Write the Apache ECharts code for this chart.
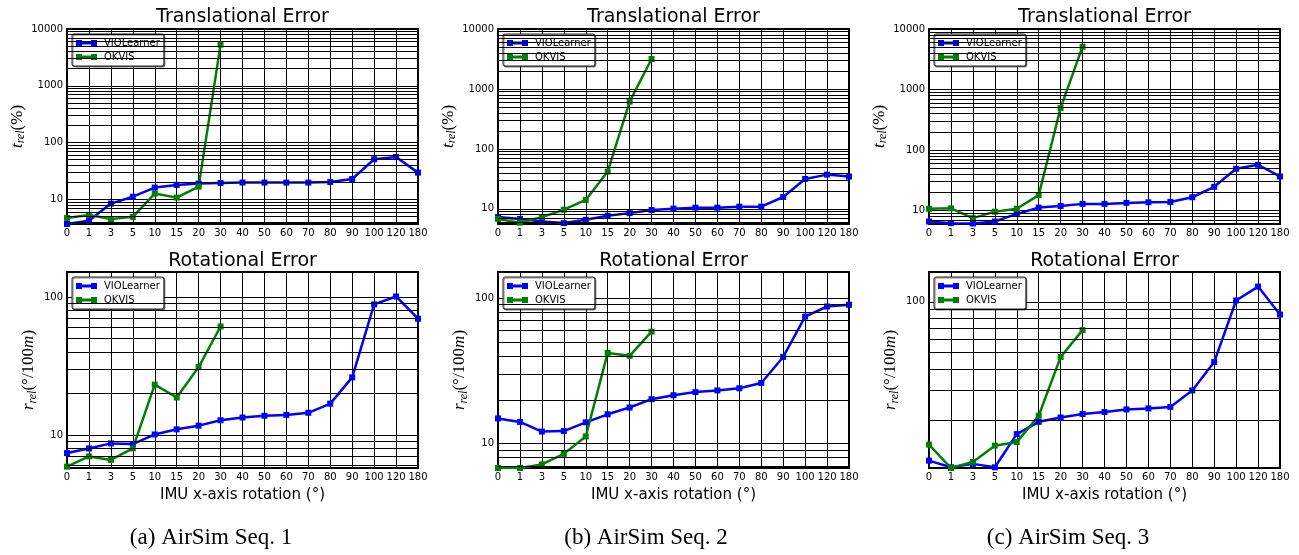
<!DOCTYPE html>
<html>
<head>
<meta charset="utf-8">
<script src="https://cdn.jsdelivr.net/npm/echarts@6/dist/echarts.min.js"></script>
<style>
  html, body { margin: 0; padding: 0; background: #fff; }
  #chart { width: 1299px; height: 555px; }
</style>
</head>
<body>
<div id="chart"></div>
<script>
// ---- data ----
const categories = ['0','1','3','5','10','15','20','30','40','50','60','70','80','90','100','120','180'];

const t1Vio   = [3.67, 4.2, 8.4, 11.1, 16.1, 17.9, 18.9, 19.4, 19.7, 19.7, 19.7, 19.7, 20.2, 22.8, 50.8, 55.8, 29.5];
const t1Okvis = [4.7, 5.3, 4.5, 4.9, 12.6, 10.7, 16.7, 5300];
const t2Vio   = [7.3, 6.8, 6.15, 5.8, 6.6, 7.7, 8.5, 9.6, 10.1, 10.5, 10.5, 10.9, 10.9, 15.8, 31.6, 37.3, 34.6];
const t2Okvis = [6.8, 5.9, 7.3, 9.7, 14.1, 41.9, 615, 3160];
const t3Vio   = [6.6, 6.2, 6.1, 6.6, 8.8, 11.2, 11.9, 12.9, 12.9, 13.4, 13.7, 13.9, 16.6, 24.7, 49, 57, 36.6];
const t3Okvis = [10.7, 10.9, 7.5, 9.6, 10.7, 18, 497, 5100];

const r1Vio   = [7.4, 8.0, 8.7, 8.6, 10.1, 11.0, 11.7, 12.8, 13.4, 13.8, 14.0, 14.5, 16.9, 26.2, 88.5, 101, 69.7];
const r1Okvis = [5.9, 7.0, 6.6, 8.0, 23.2, 18.7, 31.1, 61.2];
const r2Vio   = [14.9, 14.1, 12.1, 12.2, 14.0, 15.9, 17.7, 20.2, 21.5, 22.6, 23.2, 24.0, 26.1, 39.4, 74.6, 87.5, 89.9];
const r2Okvis = [6.8, 6.8, 7.2, 8.5, 11.2, 42, 40.1, 58.8];
const r3Vio   = [11.5, 10.5, 11.0, 10.5, 16.5, 19.5, 20.7, 21.7, 22.3, 23.1, 23.4, 23.9, 29.9, 44, 101.8, 123, 84];
const r3Okvis = [14.3, 10.4, 11.3, 14.1, 14.8, 21.2, 47.1, 68];

const yMins = [3.67, 5.6, 6.0, 5.77, 6.8, 10.4];
const yMaxs = [10000, 10000, 10000, 152, 151, 150];

const seriesNames = ['VIOLearner', 'OKVIS'];
const titles = ['Translational Error', 'Rotational Error'];
const xName = 'IMU x-axis rotation (°)';
const captions = ['(a) AirSim Seq. 1', '(b) AirSim Seq. 2', '(c) AirSim Seq. 3'];

const vioData = [t1Vio, t2Vio, t3Vio, r1Vio, r2Vio, r3Vio];
const okvisData = [t1Okvis, t2Okvis, t3Okvis, r1Okvis, r2Okvis, r3Okvis];

// ---- layout ----
const colLeft = [67, 498, 929];
const rowTop = [29, 272];
const plotW = 351;
const captionX = [211, 646, 1068];
const SANS = 'DejaVu Sans';
const SERIF = 'Liberation Serif';
const legendIcon = 'path://M0,0h6v6H0z M15,0h6v6h-6z M6,1.5h9v3H6z';

function minorValues(min, max) {
  const out = [];
  for (let k = -1; k <= 5; k++) {
    for (let m = 2; m <= 9; m++) {
      const v = m * Math.pow(10, k);
      if (v > min && v < max) out.push(v);
    }
  }
  return out;
}

const option = {
  animation: false,
  backgroundColor: '#fff',
  grid: [], xAxis: [], yAxis: [], series: [], legend: [], graphic: []
};

const richName = {
  i: { fontFamily: SERIF, fontStyle: 'italic', fontSize: 17, color: '#000', lineHeight: 20 },
  s: { fontFamily: SERIF, fontStyle: 'italic', fontSize: 12, color: '#000', lineHeight: 13, verticalAlign: 'bottom' },
  n: { fontFamily: SERIF, fontSize: 17, color: '#000', lineHeight: 20 }
};
const yNames = ['{i|t}{s|rel}{n|(%)}', '{i|r}{s|rel}{n|(°/100}{i|m}{n|)}'];

for (let i = 0; i < 6; i++) {
  const row = Math.floor(i / 3), col = i % 3;
  const left = colLeft[col], top = rowTop[row];
  option.grid.push({
    left: left, top: top, width: plotW, height: row === 0 ? 195 : 196,
    show: true, borderColor: '#000', borderWidth: 2, backgroundColor: 'transparent'
  });
  option.xAxis.push({
    type: 'category', gridIndex: i, data: categories, boundaryGap: false,
    axisLine: { show: false }, axisTick: { show: false },
    axisLabel: { interval: 0, margin: 4, fontFamily: SANS, fontSize: 10, color: '#000' },
    splitLine: { show: true, interval: 0, lineStyle: { color: '#000', width: 1 } },
    name: row === 1 ? xName : '', nameLocation: 'middle', nameGap: 20,
    nameTextStyle: { fontFamily: SANS, fontSize: 15, color: '#000' }
  });
  option.yAxis.push({
    type: 'log', logBase: 10, gridIndex: i, min: yMins[i], max: yMaxs[i],
    axisLine: { show: false }, axisTick: { show: false },
    axisLabel: {
      margin: 4, fontFamily: SANS, fontSize: 10, color: '#000',
      formatter: function (v) {
        const l = Math.log10(v);
        return Math.abs(l - Math.round(l)) < 1e-6 ? String(Math.round(v)) : '';
      }
    },
    splitLine: { show: true, lineStyle: { color: '#000', width: 1 } },
    name: yNames[row], nameLocation: 'middle', nameGap: row === 0 ? 38 : 28,
    nameTextStyle: { rich: richName }
  });
  // minor grid lines
  option.series.push({
    type: 'line', xAxisIndex: i, yAxisIndex: i, data: [], z: 1, silent: true,
    markLine: {
      silent: true, symbol: ['none', 'none'], label: { show: false },
      lineStyle: { color: '#000', width: 1, type: 'solid' },
      emphasis: { disabled: true },
      data: minorValues(yMins[i], yMaxs[i]).map(v => ({ yAxis: v }))
    }
  });
  option.series.push({
    name: seriesNames[0], type: 'line', xAxisIndex: i, yAxisIndex: i, data: vioData[i], z: 3,
    symbol: 'rect', symbolSize: 6, color: '#0000ff', legendIcon: legendIcon,
    lineStyle: { color: '#0000ff', width: 2.5 }, itemStyle: { color: '#0000ff' }
  });
  option.series.push({
    name: seriesNames[1], type: 'line', xAxisIndex: i, yAxisIndex: i, data: okvisData[i], z: 3,
    symbol: 'rect', symbolSize: 6, color: '#008000', legendIcon: legendIcon,
    lineStyle: { color: '#008000', width: 2.5 }, itemStyle: { color: '#008000' }
  });
  option.legend.push({
    data: seriesNames, orient: 'vertical', left: left + 5, top: top + 5,
    icon: legendIcon,
    itemWidth: 21, itemHeight: 6, itemGap: 2, padding: [3, 4, 3, 4],
    backgroundColor: '#fff', borderColor: '#222', borderWidth: 1, borderRadius: 2,
    shadowColor: 'rgba(0,0,0,0.5)', shadowOffsetX: 1, shadowOffsetY: 1, shadowBlur: 0,
    textStyle: { fontFamily: SANS, fontSize: 10, color: '#000', padding: [0, 0, 0, 2], lineHeight: 12 },
    selectedMode: false
  });
  option.graphic.push({
    type: 'text', x: left + plotW / 2, y: row === 0 ? 17 : 261,
    style: { text: titles[row], fontFamily: SANS, fontSize: 19, fill: '#000', align: 'center', verticalAlign: 'middle' }
  });
}
for (let c = 0; c < 3; c++) {
  option.graphic.push({
    type: 'text', x: captionX[c], y: 538,
    style: { text: captions[c], fontFamily: SERIF, fontSize: 23, fill: '#000', align: 'center', verticalAlign: 'middle' }
  });
}

const chart = echarts.init(document.getElementById('chart'), null, { renderer: 'canvas' });
chart.setOption(option);
</script>
</body>
</html>
